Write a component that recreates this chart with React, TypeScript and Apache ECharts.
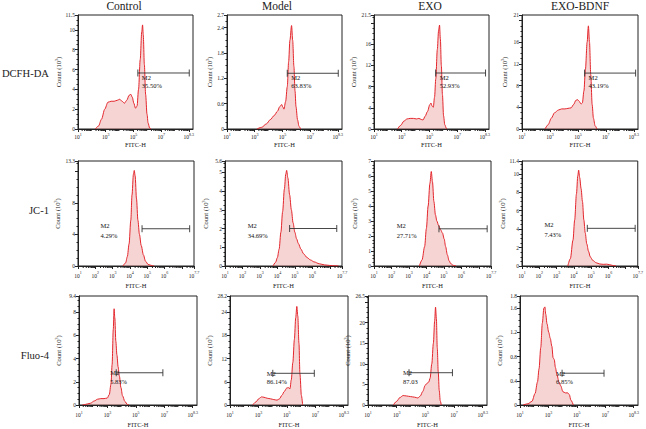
import React, { useEffect, useRef } from "react";
import * as echarts from "echarts";

// ---------- labels ----------
const columnTitles = ["Control", "Model", "EXO", "EXO-BDNF"];
const rowTitles = ["DCFH-DA", "JC-1", "Fluo-4"];

// ---------- x axes (log10 of FITC-H) ----------
const rowXMin = [1, 1, 1];
const rowXMax = [9.3, 7.7, 9.3];
const rowXTickAt = [
  [1, 3, 5, 7, 9],
  [1, 2, 3, 4, 5, 6, 7, 7.7],
  [1, 3, 5, 7, 9],
];
const rowXTickText = [
  ["1", "3", "5", "7", "8.3"],
  ["1", "2", "3", "4", "5", "6", "", "7.7"],
  ["1", "3", "5", "7", "8.3"],
];

// ---------- y axes (count, 10^3) ----------
const yMaxes = [
  [11.5, 2.7, 21.5, 21],
  [13.3, 5.6, 7, 11.4],
  [9.4, 28.2, 26.5, 1.8],
];
const yIntervals = [
  [2, 0.6, 4, 4],
  [4, 1, 1, 2],
  [2, 6, 5, 0.4],
];

// ---------- histograms: [log10(FITC-H), count (10^3)] ----------
const dcfhControl = [[2.25,0],[2.48,0.3],[2.70,1.0],[2.93,2.0],[3.16,2.7],[3.39,2.8],[3.61,2.8],[3.84,2.9],[4.01,3.0],[4.18,2.8],[4.35,2.6],[4.52,2.9],[4.69,3.4],[4.81,3.5],[4.92,3.2],[5.03,2.6],[5.15,2.1],[5.26,2.3],[5.37,4.0],[5.49,7.0],[5.60,9.8],[5.66,10.5],[5.71,9.5],[5.79,6.5],[5.88,3.5],[5.98,1.5],[6.06,0.6],[6.17,0.1],[6.28,0]];
const dcfhModel = [[3.16,0],[3.50,0.04],[3.84,0.12],[4.12,0.22],[4.41,0.32],[4.64,0.42],[4.81,0.53],[4.95,0.58],[5.03,0.52],[5.11,0.47],[5.23,0.65],[5.35,1.0],[5.45,1.6],[5.54,2.1],[5.66,2.45],[5.74,2.1],[5.83,1.48],[5.91,0.9],[5.98,0.53],[6.09,0.22],[6.20,0.06],[6.32,0]];
const dcfhExo = [[2.70,0],[2.93,0.7],[3.16,1.5],[3.39,1.9],[3.61,2.0],[3.84,2.0],[4.07,1.9],[4.24,2.0],[4.41,1.8],[4.54,1.7],[4.69,2.4],[4.86,3.3],[5.03,4.6],[5.11,4.9],[5.20,4.3],[5.28,4.1],[5.37,6.0],[5.46,9.5],[5.57,15],[5.66,18.5],[5.73,19.6],[5.79,17],[5.86,12],[5.94,6.5],[6.02,2.5],[6.11,0.8],[6.23,0.1],[6.28,0]];
const dcfhBdnf = [[2.65,0],[2.87,0.8],[3.10,2.0],[3.33,3.0],[3.61,3.5],[3.84,3.7],[4.07,3.7],[4.29,3.8],[4.52,3.9],[4.69,4.5],[4.86,5.3],[4.98,5.4],[5.09,5.1],[5.23,4.6],[5.32,4.8],[5.43,7.0],[5.54,11],[5.66,16],[5.75,19.0],[5.83,16],[5.92,10],[6.02,4.5],[6.11,2.0],[6.23,0.6],[6.36,0]];

const jcControl = [[3.6,0],[3.75,0.4],[3.85,1.2],[3.95,2.8],[4.05,5.8],[4.12,9.0],[4.2,11.6],[4.25,12.1],[4.3,11.4],[4.38,8.5],[4.46,5.8],[4.55,4.0],[4.65,2.6],[4.78,1.4],[4.9,0.6],[5.05,0.2],[5.3,0.03],[5.4,0]];
const jcModel = [[3.75,0],[3.9,0.2],[4.0,0.45],[4.1,0.9],[4.2,1.8],[4.3,2.9],[4.4,4.1],[4.48,4.9],[4.53,5.1],[4.6,4.7],[4.7,3.8],[4.8,3.0],[4.9,2.3],[5.0,1.8],[5.1,1.45],[5.2,1.2],[5.35,0.9],[5.5,0.65],[5.7,0.45],[5.9,0.32],[6.1,0.22],[6.4,0.12],[6.7,0.06],[7.0,0.03],[7.3,0.01],[7.5,0]];
const jcExo = [[3.6,0],[3.75,0.4],[3.9,1.3],[4.0,2.5],[4.1,4.0],[4.2,5.5],[4.28,6.3],[4.35,5.6],[4.43,4.3],[4.52,3.4],[4.6,3.0],[4.7,2.7],[4.82,2.4],[4.92,2.2],[5.02,1.8],[5.1,1.3],[5.2,0.75],[5.3,0.35],[5.4,0.15],[5.55,0.04],[5.7,0]];
const jcBdnf = [[3.65,0],[3.8,0.8],[3.95,2.8],[4.05,5.0],[4.15,7.8],[4.23,9.8],[4.28,10.4],[4.34,9.6],[4.42,8.4],[4.5,7.0],[4.58,5.0],[4.66,3.6],[4.75,2.4],[4.85,1.6],[4.95,1.0],[5.1,0.6],[5.3,0.35],[5.5,0.22],[5.7,0.18],[5.9,0.2],[6.05,0.15],[6.25,0.06],[6.45,0]];

const fluoControl = [[1.23,0],[1.45,0.05],[1.80,0.15],[2.08,0.35],[2.31,0.5],[2.53,0.55],[2.76,0.55],[2.99,0.6],[3.13,0.9],[3.25,1.8],[3.33,3.5],[3.41,6.5],[3.47,8.3],[3.52,7.5],[3.59,5.5],[3.67,4.3],[3.75,3.3],[3.84,2.5],[3.95,1.5],[4.06,0.8],[4.23,0.3],[4.40,0.05],[4.52,0]];
const fluoModel = [[2.60,0],[2.82,0.8],[3.05,1.7],[3.22,2.1],[3.39,2.0],[3.62,1.75],[3.85,1.6],[4.08,1.4],[4.31,1.25],[4.48,1.6],[4.65,2.5],[4.82,3.5],[4.99,4.4],[5.10,4.5],[5.22,4.2],[5.31,6.5],[5.42,11],[5.53,17],[5.62,22.5],[5.70,25.5],[5.77,23],[5.85,16],[5.92,8],[6.02,2.5],[6.11,0]];
const fluoExo = [[2.77,0],[3.00,0.9],[3.22,1.8],[3.45,2.3],[3.68,2.2],[3.96,2.05],[4.25,1.9],[4.48,1.7],[4.65,2.2],[4.82,3.3],[4.99,4.8],[5.13,5.3],[5.24,5.6],[5.33,6.5],[5.45,10],[5.56,15],[5.65,20.5],[5.71,23.8],[5.77,21],[5.83,14],[5.90,8],[5.97,3.5],[6.04,1.0],[6.11,0]];
const fluoBdnf = [[1.22,0],[1.56,0.02],[1.84,0.06],[2.06,0.19],[2.23,0.38],[2.34,0.6],[2.46,0.95],[2.57,1.35],[2.68,1.6],[2.75,1.62],[2.81,1.5],[2.90,1.34],[3.02,1.2],[3.13,1.1],[3.24,0.97],[3.33,0.78],[3.41,0.75],[3.49,0.62],[3.60,0.5],[3.74,0.38],[3.86,0.32],[4.02,0.22],[4.19,0.2],[4.36,0.2],[4.47,0.17],[4.58,0.08],[4.75,0]];

const histograms = [
  [dcfhControl, dcfhModel, dcfhExo, dcfhBdnf],
  [jcControl, jcModel, jcExo, jcBdnf],
  [fluoControl, fluoModel, fluoExo, fluoBdnf],
];

// ---------- M2 gates ----------
const gateStart = [[5.32, 5.35, 5.45, 5.48], [4.7, 4.7, 4.72, 4.78], [3.62, 4.01, 3.86, 3.96]];
const gateEnd = [[9.03, 9.03, 9.05, 9.13], [7.45, 7.4, 7.48, 7.55], [6.9, 6.93, 6.89, 6.91]];
const gateY = [[5.65, 1.32, 10.56, 10.3], [4.72, 2.0, 2.48, 4.09], [2.78, 8.2, 7.85, 0.525]];
const gatePct = [
  ["35.50%", "63.83%", "52.93%", "43.19%"],
  ["4.29%", "34.69%", "27.71%", "7.43%"],
  ["5.83%", "86.14%", "87.03", "6.85%"],
];
const gateName = "M2";

// ---------- layout (pixels) ----------
const panelLR = [
  [[78, 193], [227, 342], [374, 489], [522, 638]],
  [[78, 194], [225, 342], [374, 491], [522, 638]],
  [[79, 197], [230, 348], [368, 487], [520, 638]],
];
const rowTB = [[15, 129], [161, 266], [296, 407]];
const xLabelMargin = [3, 4.5, 5];
const xNameGap = [11.5, 15.5, 16];
const yNameGap = [14.5, 16, 17];
const titleX = [124, 277, 430, 580];
const rowLabelY = [73, 210, 355];

const SERIF = '"Liberation Serif", "DejaVu Serif", serif';
const INK = "#222";
const RED = "#e3262c";

export default function App() {
  const ref = useRef<HTMLDivElement>(null);
  useEffect(() => {
    if (!ref.current) return;
    const chart = echarts.init(ref.current, undefined, { renderer: "svg" });

    const grids: any[] = [];
    const xAxes: any[] = [];
    const yAxes: any[] = [];
    const series: any[] = [];

    for (let r = 0; r < 3; r++) {
      const xMin = rowXMin[r];
      const xMax = rowXMax[r];
      const tickAt = rowXTickAt[r].map((v) => +(v - xMin).toFixed(4));
      const tickText = rowXTickText[r];
      // logarithmic minor tick positions between decades
      const minor: number[][] = [];
      for (let n = Math.floor(xMin); n < xMax; n++) {
        for (let k = 2; k <= 9; k++) {
          const v = n + Math.log10(k);
          if (v > xMin && v < xMax) minor.push([v - xMin, 0]);
        }
      }
      for (let c = 0; c < 4; c++) {
        const i = r * 4 + c;
        const [L, R] = panelLR[r][c];
        const [T, B] = rowTB[r];
        const yMax = yMaxes[r][c];
        const yInt = yIntervals[r][c];
        grids.push({
          left: L, top: T, width: R - L, height: B - T,
          show: true, borderColor: INK, borderWidth: 1, backgroundColor: "transparent",
        });
        xAxes.push({
          gridIndex: i, type: "value", min: 0, max: +(xMax - xMin).toFixed(4),
          interval: r === 1 ? 1 : 2,
          axisLine: { onZero: false, lineStyle: { color: INK, width: 1 } },
          axisTick: { customValues: tickAt, length: 3, lineStyle: { color: INK } },
          splitLine: { show: false },
          axisLabel: {
            customValues: tickAt,
            margin: xLabelMargin[r],
            formatter: (v: number) => {
              const idx = tickAt.findIndex((t) => Math.abs(t - v) < 1e-6);
              const t = idx >= 0 ? tickText[idx] : "";
              return t ? `{b|10}{s|${t}}` : "";
            },
            rich: {
              b: { fontSize: 5.5, fontFamily: SERIF, color: INK, lineHeight: 8, verticalAlign: "bottom" },
              s: { fontSize: 4, fontFamily: SERIF, color: INK, lineHeight: 4, verticalAlign: "top" },
            },
          },
          name: "FITC-H", nameLocation: "middle", nameGap: xNameGap[r],
          nameTextStyle: { fontSize: 6.5, fontFamily: SERIF, color: INK },
        });
        yAxes.push({
          gridIndex: i, type: "value", min: 0, max: yMax, interval: yInt,
          axisLine: { show: true, lineStyle: { color: INK, width: 1 } },
          axisTick: { show: true, length: 3, lineStyle: { color: INK } },
          minorTick: { show: true, splitNumber: 4, length: 1.5, lineStyle: { color: INK } },
          splitLine: { show: false },
          axisLabel: {
            fontSize: 5.5, fontFamily: SERIF, color: INK, margin: 3,
            formatter: (v: number) => {
              if (Math.abs(v - yMax) > 1e-6 && yMax - v < 0.4 * yInt) return "";
              return String(+v.toFixed(2));
            },
          },
          name: "{n|Count (10}{s|3}{n|)}", nameLocation: "middle", nameGap: yNameGap[r],
          nameTextStyle: {
            rich: {
              n: { fontSize: 6.5, fontFamily: SERIF, color: INK, lineHeight: 8, verticalAlign: "bottom" },
              s: { fontSize: 4.5, fontFamily: SERIF, color: INK, lineHeight: 4.5, verticalAlign: "top" },
            },
          },
        });
        series.push({
          type: "line", xAxisIndex: i, yAxisIndex: i,
          data: histograms[r][c].map(([e, n]) => [e - xMin, n]),
          showSymbol: false, smooth: 0.3, smoothMonotone: "x",
          lineStyle: { color: RED, width: 1 },
          areaStyle: { color: "rgba(226,108,108,0.42)" },
          silent: true, z: 2,
        });
        const gStart = gateStart[r][c] - xMin;
        const gEnd = gateEnd[r][c] - xMin;
        const pct = gatePct[r][c];
        const row = r;
        series.push({
          type: "custom", xAxisIndex: i, yAxisIndex: i, z: 5, silent: true,
          data: [[gStart, gEnd, gateY[r][c]]],
          encode: { x: [0, 1], y: 2 },
          renderItem: (_p: any, api: any) => {
            const s = api.coord([api.value(0), api.value(2)]);
            const e = api.coord([api.value(1), api.value(2)]);
            const ls = { stroke: "#333", lineWidth: 0.9 };
            const children: any[] = [
              { type: "line", shape: { x1: s[0], y1: s[1], x2: e[0], y2: e[1] }, style: ls },
              { type: "line", shape: { x1: s[0], y1: s[1] - 3.5, x2: s[0], y2: s[1] + 3.5 }, style: ls },
              { type: "line", shape: { x1: e[0], y1: e[1] - 3.5, x2: e[0], y2: e[1] + 3.5 }, style: ls },
            ];
            let tx = s[0] + 4, ty1 = s[1] + 4.5, ty2 = s[1] + 12.5;
            if (row === 1) {
              const lp = api.coord([1.3, api.value(2)]);
              tx = lp[0]; ty1 = s[1] - 3.5; ty2 = s[1] + 6.5;
            } else if (row === 2) {
              tx = s[0] - 6; ty1 = s[1]; ty2 = s[1] + 8.5;
            }
            const ts = (text: string) => ({
              text, fill: "#111", fontSize: 6.5, fontFamily: SERIF,
              align: "left", verticalAlign: "middle",
              textAlign: "left", textVerticalAlign: "middle",
            });
            children.push({ type: "text", x: tx, y: ty1, style: ts(gateName) });
            children.push({ type: "text", x: tx, y: ty2, style: ts(pct) });
            return { type: "group", children };
          },
        });
        series.push({
          type: "custom", xAxisIndex: i, yAxisIndex: i, z: 4, silent: true,
          data: minor,
          encode: { x: 0, y: 1 },
          renderItem: (_p: any, api: any) => {
            const p = api.coord([api.value(0), 0]);
            return {
              type: "line",
              shape: { x1: p[0], y1: p[1], x2: p[0], y2: p[1] + 2 },
              style: { stroke: INK, lineWidth: 1 },
            };
          },
        });
      }
    }

    const graphic: any[] = [];
    columnTitles.forEach((t, c) => {
      graphic.push({
        type: "text", x: titleX[c], y: 6,
        style: { text: t, fill: INK, fontSize: 11.5, fontFamily: SERIF,
          align: "center", verticalAlign: "middle", textAlign: "center", textVerticalAlign: "middle" },
      });
    });
    rowTitles.forEach((t, r) => {
      graphic.push({
        type: "text", x: 49, y: rowLabelY[r],
        style: { text: t, fill: INK, fontSize: 10.6, fontFamily: SERIF,
          align: "right", verticalAlign: "middle", textAlign: "right", textVerticalAlign: "middle" },
      });
    });

    chart.setOption({
      animation: false,
      backgroundColor: "#ffffff",
      grid: grids,
      xAxis: xAxes,
      yAxis: yAxes,
      series,
      graphic,
    });
    return () => chart.dispose();
  }, []);
  return (
    <div
      ref={ref}
      style={{ position: "absolute", left: 0, top: 0, width: 646, height: 429 }}
    />
  );
}
